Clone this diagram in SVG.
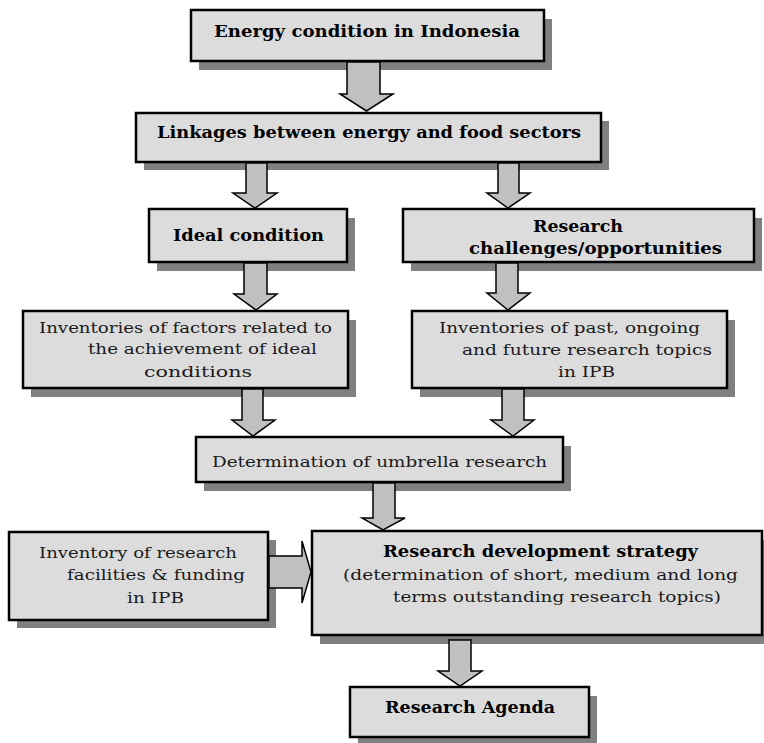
<svg xmlns="http://www.w3.org/2000/svg" width="764" height="743" viewBox="0 0 764 743">
<defs>
<style>
.shadow{fill:#808080;stroke:none}
.box{fill:#dcdcdc;stroke:#000;stroke-width:2.5}
.arrow{fill:#c0c0c0;stroke:#000;stroke-width:1.5;stroke-linejoin:miter}
.b{font-family:"DejaVu Serif","Liberation Serif",serif;font-weight:bold;font-size:16px;fill:#000}
.r{font-family:"DejaVu Serif","Liberation Serif",serif;font-size:15px;fill:#1a1a1a}
</style>
</defs>
<rect width="764" height="743" fill="#fff"/>
<g id="node-energy">
<rect class="shadow" x="199" y="19" width="353" height="51"/>
<rect class="box" x="191" y="10" width="353" height="51"/>
<text class="b" x="214" y="37" textLength="306" lengthAdjust="spacingAndGlyphs">Energy condition in Indonesia</text>
</g>
<g id="node-linkages">
<rect class="shadow" x="144" y="121" width="465" height="49"/>
<rect class="box" x="136" y="113" width="465" height="49"/>
<text class="b" x="157" y="138" textLength="424" lengthAdjust="spacingAndGlyphs">Linkages between energy and food sectors</text>
</g>
<g id="node-ideal">
<rect class="shadow" x="157" y="218" width="198" height="53"/>
<rect class="box" x="149" y="209" width="198" height="53"/>
<text class="b" x="173" y="241" textLength="151" lengthAdjust="spacingAndGlyphs">Ideal condition</text>
</g>
<g id="node-challenges">
<rect class="shadow" x="411" y="218" width="351" height="53"/>
<rect class="box" x="403" y="209" width="351" height="53"/>
<text class="b" x="533" y="232" textLength="90" lengthAdjust="spacingAndGlyphs">Research</text>
<text class="b" x="469" y="254" textLength="253" lengthAdjust="spacingAndGlyphs">challenges/opportunities</text>
</g>
<g id="node-inv-factors">
<rect class="shadow" x="31" y="320" width="325" height="77"/>
<rect class="box" x="23" y="311" width="325" height="77"/>
<text class="r" x="39" y="333" textLength="293" lengthAdjust="spacingAndGlyphs">Inventories of factors related to</text>
<text class="r" x="88" y="354" textLength="229" lengthAdjust="spacingAndGlyphs">the achievement of ideal</text>
<text class="r" x="144" y="377" textLength="108" lengthAdjust="spacingAndGlyphs">conditions</text>
</g>
<g id="node-inv-topics">
<rect class="shadow" x="420" y="320" width="315" height="77"/>
<rect class="box" x="412" y="311" width="315" height="77"/>
<text class="r" x="439" y="333" textLength="261" lengthAdjust="spacingAndGlyphs">Inventories of past, ongoing</text>
<text class="r" x="462" y="355" textLength="250" lengthAdjust="spacingAndGlyphs">and future research topics</text>
<text class="r" x="558" y="377" textLength="57" lengthAdjust="spacingAndGlyphs">in IPB</text>
</g>
<g id="node-umbrella">
<rect class="shadow" x="204" y="446" width="367" height="45"/>
<rect class="box" x="196" y="437" width="367" height="45"/>
<text class="r" x="212" y="467" textLength="335" lengthAdjust="spacingAndGlyphs">Determination of umbrella research</text>
</g>
<g id="node-facilities">
<rect class="shadow" x="17" y="540" width="259" height="88"/>
<rect class="box" x="9" y="532" width="259" height="88"/>
<text class="r" x="39" y="558" textLength="198" lengthAdjust="spacingAndGlyphs">Inventory of research</text>
<text class="r" x="67" y="580" textLength="178" lengthAdjust="spacingAndGlyphs">facilities &amp; funding</text>
<text class="r" x="127" y="603" textLength="57" lengthAdjust="spacingAndGlyphs">in IPB</text>
</g>
<g id="node-strategy">
<rect class="shadow" x="320" y="540" width="450" height="104"/>
<rect class="box" x="312" y="531" width="450" height="104"/>
<text class="b" x="383" y="557" textLength="315" lengthAdjust="spacingAndGlyphs">Research development strategy</text>
<text class="r" x="343" y="580" textLength="395" lengthAdjust="spacingAndGlyphs">(determination of short, medium and long</text>
<text class="r" x="393" y="602" textLength="328" lengthAdjust="spacingAndGlyphs">terms outstanding research topics)</text>
</g>
<g id="node-agenda">
<rect class="shadow" x="358" y="696" width="239" height="50"/>
<rect class="box" x="350" y="687" width="239" height="50"/>
<text class="b" x="385" y="713" textLength="170" lengthAdjust="spacingAndGlyphs">Research Agenda</text>
</g>
<g id="connectors">
<polygon class="arrow" points="347,62 380,62 380,94 393,94 366.5,111 340,94 347,94"/>
<polygon class="arrow" points="246,163 267,163 267,193 277,193 255,208 233,193 246,193"/>
<polygon class="arrow" points="498,163 519,163 519,193 530,193 508,208 487,193 498,193"/>
<polygon class="arrow" points="244,263 267,263 267,294 277,294 256,310 234,294 244,294"/>
<polygon class="arrow" points="496,263 518,263 518,293 530,293 508,310 487,293 496,293"/>
<polygon class="arrow" points="242,389 263,389 263,420 275,420 253,436 232,420 242,420"/>
<polygon class="arrow" points="502,389 524,389 524,420 534,420 513,436 491,420 502,420"/>
<polygon class="arrow" points="373,483 395,483 395,518 405,518 383,530 362,518 373,518"/>
<polygon class="arrow" points="269,556 302,556 302,541 311,572 302,603 302,588 269,588"/>
<polygon class="arrow" points="449,640 471,640 471,671 482,671 460,686 438,671 449,671"/>
</g>
</svg>
